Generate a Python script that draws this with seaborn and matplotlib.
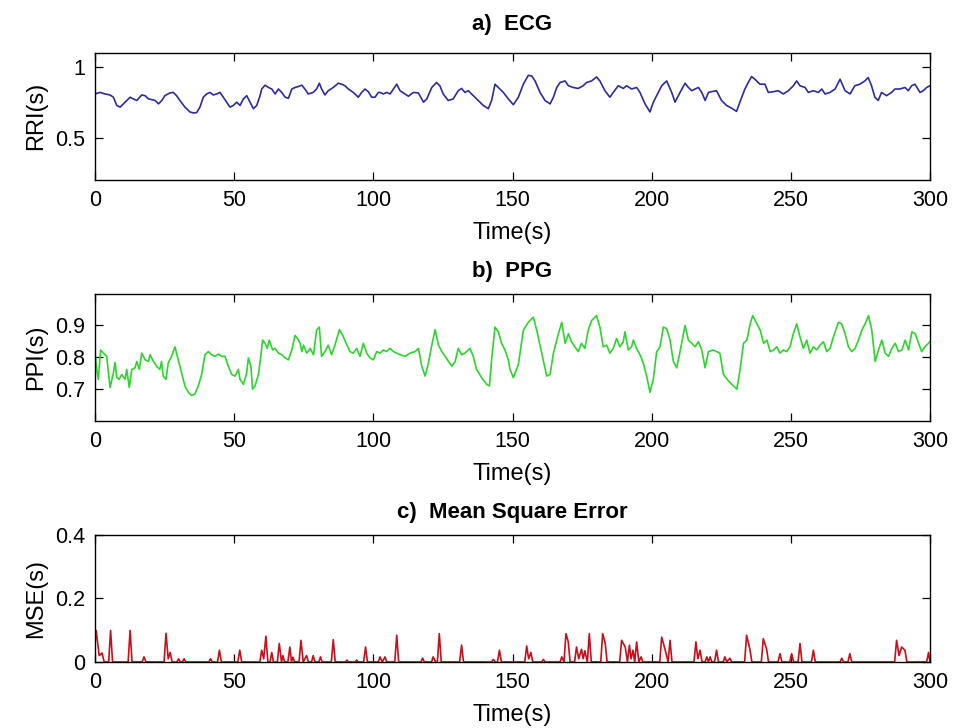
import numpy as np
import matplotlib
matplotlib.use("Agg")
import matplotlib.pyplot as plt
import seaborn as sns

# ============================
# data (time in s, value in s)
# ============================
ECG = [
    (0.0, 0.808), (1.8, 0.819), (3.6, 0.808), (5.4, 0.801), (6.6, 0.785), (7.8, 0.727),
    (9.0, 0.715), (10.2, 0.738), (11.4, 0.762), (12.6, 0.785), (13.8, 0.773), (15.0, 0.762),
    (16.8, 0.801), (18.0, 0.796), (19.2, 0.773), (20.4, 0.768), (21.6, 0.762), (22.8, 0.738),
    (24.0, 0.762), (25.1, 0.796), (26.9, 0.815), (28.1, 0.819), (29.3, 0.796), (30.5, 0.762),
    (32.3, 0.715), (34.1, 0.681), (35.3, 0.674), (36.5, 0.676), (37.7, 0.715), (38.9, 0.785),
    (40.1, 0.808), (41.3, 0.819), (42.5, 0.801), (43.7, 0.808), (44.9, 0.819), (46.1, 0.785),
    (47.3, 0.750), (48.5, 0.715), (49.7, 0.727), (50.9, 0.750), (52.1, 0.727), (53.3, 0.773),
    (54.5, 0.796), (55.7, 0.750), (56.9, 0.704), (58.1, 0.727), (59.3, 0.796), (59.9, 0.843),
    (61.1, 0.870), (62.3, 0.854), (63.5, 0.843), (64.7, 0.808), (65.9, 0.843), (67.1, 0.819),
    (68.3, 0.785), (69.5, 0.778), (70.7, 0.843), (71.9, 0.854), (73.1, 0.861), (74.3, 0.870),
    (75.4, 0.843), (76.6, 0.808), (78.4, 0.819), (79.6, 0.843), (80.6, 0.884), (81.4, 0.843),
    (82.6, 0.801), (83.8, 0.831), (85.6, 0.854), (87.4, 0.884), (88.6, 0.877), (89.8, 0.866),
    (91.0, 0.843), (92.8, 0.819), (94.6, 0.785), (95.8, 0.819), (97.0, 0.843), (98.2, 0.824),
    (99.4, 0.785), (100.6, 0.785), (101.8, 0.819), (102.4, 0.819), (103.6, 0.808), (104.8, 0.819),
    (106.0, 0.808), (107.2, 0.843), (108.4, 0.877), (109.6, 0.831), (111.4, 0.808), (112.6, 0.792),
    (114.4, 0.819), (116.2, 0.815), (118.0, 0.750), (119.2, 0.773), (121.0, 0.854), (122.7, 0.889),
    (123.9, 0.866), (125.1, 0.808), (126.9, 0.762), (128.7, 0.773), (130.5, 0.831), (131.7, 0.847),
    (132.9, 0.819), (134.1, 0.831), (135.9, 0.796), (137.7, 0.762), (139.5, 0.727), (141.3, 0.704),
    (142.5, 0.762), (143.7, 0.877), (144.9, 0.854), (146.7, 0.819), (148.5, 0.773), (150.3, 0.732),
    (152.1, 0.785), (153.9, 0.877), (155.7, 0.940), (156.9, 0.935), (158.1, 0.900), (159.9, 0.819),
    (161.7, 0.762), (163.5, 0.738), (164.7, 0.785), (165.9, 0.854), (167.1, 0.889), (168.9, 0.900),
    (170.1, 0.866), (171.8, 0.854), (173.6, 0.847), (175.4, 0.866), (176.6, 0.889), (178.4, 0.900),
    (180.2, 0.928), (181.4, 0.900), (183.2, 0.831), (185.0, 0.785), (186.2, 0.819), (188.0, 0.866),
    (189.8, 0.847), (191.0, 0.866), (192.8, 0.843), (194.6, 0.854), (195.8, 0.819), (197.6, 0.738),
    (199.4, 0.681), (200.6, 0.750), (201.8, 0.796), (203.6, 0.866), (205.4, 0.900), (207.2, 0.819),
    (208.4, 0.750), (210.2, 0.819), (212.0, 0.884), (213.2, 0.854), (214.4, 0.831), (215.6, 0.843),
    (216.8, 0.854), (218.0, 0.819), (219.2, 0.762), (220.4, 0.819), (221.5, 0.824), (223.3, 0.831),
    (225.1, 0.762), (226.9, 0.727), (228.7, 0.708), (230.5, 0.685), (231.7, 0.750), (233.5, 0.843),
    (234.7, 0.889), (235.9, 0.931), (237.1, 0.912), (238.9, 0.877), (240.7, 0.877), (241.9, 0.819),
    (243.7, 0.824), (245.5, 0.831), (247.3, 0.808), (249.1, 0.831), (250.9, 0.866), (252.1, 0.900),
    (253.3, 0.866), (255.1, 0.854), (256.3, 0.819), (258.1, 0.831), (259.9, 0.819), (261.1, 0.843),
    (262.3, 0.808), (264.1, 0.819), (265.9, 0.843), (267.7, 0.912), (269.5, 0.831), (271.3, 0.808),
    (273.0, 0.866), (274.8, 0.877), (276.6, 0.900), (277.8, 0.924), (279.0, 0.866), (280.2, 0.785),
    (281.4, 0.762), (282.6, 0.819), (284.4, 0.796), (286.2, 0.819), (287.4, 0.843), (289.2, 0.843),
    (291.0, 0.854), (292.2, 0.831), (293.4, 0.866), (294.6, 0.877), (296.4, 0.819), (297.6, 0.831),
    (298.8, 0.854), (300.0, 0.866),
]

PPG = [
    (0.0, 0.818), (0.6, 0.762), (1.2, 0.731), (2.0, 0.823), (3.0, 0.813), (4.2, 0.803),
    (5.4, 0.705), (6.6, 0.751), (7.2, 0.784), (7.8, 0.736), (8.7, 0.731), (9.6, 0.746),
    (10.8, 0.731), (11.4, 0.762), (12.3, 0.705), (13.2, 0.762), (14.4, 0.767), (15.0, 0.787),
    (15.9, 0.762), (16.8, 0.813), (18.0, 0.792), (19.2, 0.787), (19.8, 0.808), (21.0, 0.787),
    (22.1, 0.772), (23.3, 0.762), (23.9, 0.787), (24.5, 0.741), (25.5, 0.731), (26.3, 0.782),
    (27.5, 0.803), (28.7, 0.833), (29.9, 0.792), (31.1, 0.751), (32.3, 0.710), (33.5, 0.690),
    (34.7, 0.680), (35.9, 0.685), (37.1, 0.710), (38.3, 0.746), (39.5, 0.808), (40.7, 0.818),
    (41.9, 0.808), (43.1, 0.803), (44.3, 0.810), (45.5, 0.803), (46.7, 0.803), (47.9, 0.772),
    (49.1, 0.746), (50.3, 0.741), (51.5, 0.762), (52.1, 0.731), (53.3, 0.715), (54.5, 0.751),
    (55.1, 0.798), (56.0, 0.772), (56.6, 0.700), (57.5, 0.710), (58.7, 0.746), (59.5, 0.798),
    (60.2, 0.854), (61.1, 0.844), (61.9, 0.828), (62.6, 0.854), (63.8, 0.823), (64.7, 0.828),
    (65.9, 0.813), (67.1, 0.808), (68.3, 0.798), (69.5, 0.792), (70.7, 0.823), (71.9, 0.869),
    (73.1, 0.854), (73.7, 0.844), (74.3, 0.818), (74.9, 0.838), (76.1, 0.813), (77.3, 0.828),
    (78.5, 0.808), (79.6, 0.885), (80.6, 0.895), (81.4, 0.803), (82.6, 0.818), (83.8, 0.838),
    (85.0, 0.808), (86.2, 0.838), (87.8, 0.887), (89.0, 0.869), (90.2, 0.844), (91.6, 0.818),
    (92.8, 0.813), (94.0, 0.828), (95.2, 0.803), (96.4, 0.844), (97.6, 0.813), (98.8, 0.798),
    (100.0, 0.792), (101.2, 0.818), (102.4, 0.813), (103.6, 0.823), (104.8, 0.818), (106.0, 0.828),
    (107.2, 0.818), (108.4, 0.813), (109.6, 0.808), (111.4, 0.803), (113.2, 0.813), (115.0, 0.818),
    (116.2, 0.828), (117.4, 0.772), (118.6, 0.741), (119.8, 0.782), (121.0, 0.838), (122.2, 0.887),
    (123.4, 0.838), (124.6, 0.818), (125.8, 0.803), (127.0, 0.787), (128.2, 0.772), (129.4, 0.787),
    (130.5, 0.828), (131.7, 0.808), (132.9, 0.813), (134.7, 0.828), (135.9, 0.803), (137.1, 0.762),
    (138.9, 0.736), (140.7, 0.715), (141.7, 0.710), (142.5, 0.792), (143.7, 0.895), (144.9, 0.880),
    (146.1, 0.844), (147.3, 0.823), (148.5, 0.792), (149.1, 0.762), (150.3, 0.736), (152.1, 0.777),
    (153.9, 0.885), (155.7, 0.910), (157.5, 0.926), (158.7, 0.885), (160.5, 0.813), (162.3, 0.741),
    (163.5, 0.746), (164.7, 0.813), (166.5, 0.874), (167.7, 0.910), (168.9, 0.844), (170.1, 0.874),
    (171.2, 0.849), (172.4, 0.833), (173.6, 0.818), (174.8, 0.844), (176.0, 0.828), (177.2, 0.885),
    (178.4, 0.915), (180.2, 0.931), (181.4, 0.895), (182.6, 0.833), (183.8, 0.838), (185.0, 0.813),
    (186.2, 0.828), (187.4, 0.859), (188.6, 0.833), (189.8, 0.849), (190.4, 0.880), (191.6, 0.823),
    (192.8, 0.833), (193.4, 0.854), (194.6, 0.828), (195.8, 0.808), (197.0, 0.782), (198.2, 0.741),
    (199.4, 0.690), (200.6, 0.731), (201.8, 0.818), (203.0, 0.833), (204.2, 0.895), (205.4, 0.890),
    (206.6, 0.854), (207.8, 0.787), (209.0, 0.767), (210.2, 0.818), (212.0, 0.900), (213.2, 0.854),
    (214.4, 0.844), (215.6, 0.833), (216.8, 0.849), (218.0, 0.823), (219.2, 0.767), (220.4, 0.818),
    (222.1, 0.823), (223.3, 0.818), (224.5, 0.813), (225.8, 0.746), (227.6, 0.726), (229.4, 0.710),
    (230.6, 0.700), (231.8, 0.762), (233.0, 0.844), (234.2, 0.854), (235.4, 0.905), (236.3, 0.931),
    (237.8, 0.905), (239.0, 0.885), (240.2, 0.844), (241.4, 0.854), (242.6, 0.818), (243.8, 0.823),
    (245.0, 0.833), (246.1, 0.813), (247.3, 0.823), (248.5, 0.818), (249.7, 0.833), (250.9, 0.874),
    (252.1, 0.905), (253.3, 0.864), (254.5, 0.828), (255.7, 0.854), (256.9, 0.813), (258.1, 0.833),
    (259.3, 0.823), (260.5, 0.838), (261.7, 0.849), (262.9, 0.818), (264.1, 0.828), (265.3, 0.864),
    (267.1, 0.910), (268.3, 0.905), (269.5, 0.874), (270.7, 0.833), (271.9, 0.818), (273.1, 0.828),
    (274.3, 0.854), (275.5, 0.885), (276.7, 0.905), (277.9, 0.931), (279.1, 0.885), (280.3, 0.787),
    (281.5, 0.823), (282.7, 0.854), (283.9, 0.813), (285.1, 0.803), (286.3, 0.828), (287.5, 0.844),
    (288.7, 0.818), (289.9, 0.823), (291.1, 0.854), (292.3, 0.823), (293.5, 0.880), (294.7, 0.874),
    (295.9, 0.844), (297.0, 0.818), (298.2, 0.833), (300.0, 0.849),
]

MSE = [
    (0.0, 0.060), (0.4, 0.099), (1.5, 0.020), (2.5, 0.028), (3.3, 0.0),
    (4.9, 0.0), (5.6, 0.099), (6.3, 0.0), (11.9, 0.0), (12.6, 0.099), (13.3, 0.0),
    (16.9, 0.0), (17.6, 0.016), (18.3, 0.0), (24.8, 0.0), (25.5, 0.090), (26.3, 0.010),
    (27.0, 0.030), (27.7, 0.0), (29.4, 0.0), (30.0, 0.010), (30.6, 0.0), (31.4, 0.0),
    (32.0, 0.010), (32.6, 0.0), (40.9, 0.0), (41.5, 0.010), (42.1, 0.0), (44.0, 0.0),
    (44.7, 0.037), (45.4, 0.0), (51.3, 0.0), (52.0, 0.037), (52.7, 0.0), (59.2, 0.0),
    (59.9, 0.037), (60.6, 0.010), (61.4, 0.081), (62.1, 0.0), (62.9, 0.0), (63.5, 0.030),
    (64.1, 0.0), (65.5, 0.0), (66.2, 0.058), (67.0, 0.0), (67.5, 0.020), (68.1, 0.0),
    (69.3, 0.0), (70.0, 0.047), (70.6, 0.0), (71.1, 0.015), (71.7, 0.0), (73.3, 0.0),
    (74.0, 0.068), (74.8, 0.0), (76.0, 0.020), (76.7, 0.0), (77.8, 0.0), (78.4, 0.020),
    (79.0, 0.0), (80.4, 0.0), (81.0, 0.016), (81.6, 0.0), (84.9, 0.0), (85.6, 0.070),
    (86.3, 0.0), (90.0, 0.0), (90.5, 0.006), (91.0, 0.0), (93.5, 0.0), (94.0, 0.006),
    (94.5, 0.0), (96.5, 0.0), (97.2, 0.047), (97.9, 0.0), (101.8, 0.0), (102.4, 0.016),
    (103.2, 0.0), (104.2, 0.016), (104.8, 0.0), (107.7, 0.0), (108.4, 0.084), (109.1, 0.0),
    (117.1, 0.0), (117.7, 0.012), (118.3, 0.0), (120.9, 0.0), (121.5, 0.016), (122.4, 0.0),
    (123.0, 0.0), (123.7, 0.089), (124.4, 0.0), (131.0, 0.0), (131.7, 0.053), (132.4, 0.0),
    (142.5, 0.0), (143.1, 0.008), (143.8, 0.0), (144.6, 0.0), (145.3, 0.037), (146.0, 0.0),
    (154.4, 0.0), (155.1, 0.050), (155.8, 0.010), (156.6, 0.030), (157.3, 0.0), (160.5, 0.0),
    (161.1, 0.008), (161.7, 0.0), (167.1, 0.0), (167.7, 0.016), (168.5, 0.0), (169.2, 0.089),
    (170.0, 0.065), (170.7, 0.0), (172.3, 0.0), (173.0, 0.047), (173.8, 0.010), (174.8, 0.040),
    (175.4, 0.010), (176.0, 0.035), (176.9, 0.0), (177.6, 0.089), (178.3, 0.0), (181.7, 0.0),
    (182.4, 0.089), (183.3, 0.060), (184.0, 0.0), (188.5, 0.0), (189.2, 0.068), (190.5, 0.047),
    (191.3, 0.0), (192.0, 0.053), (192.6, 0.010), (193.3, 0.037), (193.9, 0.0), (194.6, 0.063),
    (195.4, 0.0), (196.2, 0.016), (196.8, 0.0), (202.9, 0.0), (203.6, 0.078), (204.8, 0.040),
    (205.9, 0.0), (206.6, 0.068), (207.3, 0.0), (215.2, 0.0), (215.9, 0.063), (216.6, 0.010),
    (217.4, 0.037), (218.1, 0.0), (219.2, 0.0), (219.8, 0.016), (220.4, 0.0), (221.0, 0.016),
    (221.6, 0.0), (222.6, 0.0), (223.3, 0.037), (224.0, 0.0), (225.7, 0.0), (226.3, 0.016),
    (227.0, 0.0), (228.1, 0.012), (228.7, 0.0), (233.4, 0.0), (234.1, 0.084), (235.3, 0.040),
    (236.0, 0.0), (239.4, 0.0), (240.1, 0.073), (241.3, 0.040), (242.0, 0.0), (245.4, 0.0),
    (246.1, 0.026), (246.8, 0.0), (249.6, 0.0), (250.3, 0.026), (251.0, 0.0), (252.6, 0.0),
    (253.3, 0.058), (254.0, 0.0), (257.4, 0.0), (258.1, 0.037), (258.8, 0.0), (267.7, 0.0),
    (268.3, 0.012), (268.9, 0.0), (270.5, 0.0), (271.2, 0.026), (271.9, 0.0), (287.3, 0.0),
    (288.0, 0.068), (288.9, 0.020), (289.8, 0.047), (291.0, 0.037), (291.7, 0.0), (298.8, 0.0),
    (299.5, 0.030), (300.0, 0.0),
]

TITLES = ["a)  ECG", "b)  PPG", "c)  Mean Square Error"]
YLABELS = ["RRI(s)", "PPI(s)", "MSE(s)"]
YTICKS = [[0.5, 1.0], [0.7, 0.8, 0.9], [0.0, 0.2, 0.4]]
YTICKLABELS = [["0.5", "1"], ["0.7", "0.8", "0.9"], ["0", "0.2", "0.4"]]
YLIMS = [(0.2, 1.1), (0.6, 1.0), (0.0, 0.4)]
XTICKS = [0, 50, 100, 150, 200, 250, 300]
COLORS = ["#2c2c9c", "#2ed42e", "#cc0c18"]

# ============================
# style
# ============================
sns.set_style("ticks")
plt.rcParams["font.family"] = ["Liberation Sans", "DejaVu Sans"]
plt.rcParams["text.color"] = "black"
plt.rcParams["axes.labelcolor"] = "black"

fig = plt.figure(figsize=(9.55, 7.28), dpi=100)
bottoms = [0.7527, 0.4217, 0.0907]
title_pads = [16, 12, 12]

for i, series in enumerate([ECG, PPG, MSE]):
    t, v = np.array(series).T
    ax = fig.add_axes([0.0995, bottoms[i], 0.8743, 0.175])
    sns.lineplot(x=t, y=v, ax=ax, color=COLORS[i], linewidth=1.2,
                 estimator=None, sort=False)
    ax.set_xlim(0, 300)
    ax.set_ylim(*YLIMS[i])
    ax.set_xticks(XTICKS)
    ax.set_xticklabels([str(x) for x in XTICKS])
    ax.set_yticks(YTICKS[i])
    ax.set_yticklabels(YTICKLABELS[i])
    ax.tick_params(direction="in", top=True, right=True, length=6, width=0.9,
                   labelsize=15.5, pad=7, colors="black")
    for sp in ax.spines.values():
        sp.set_visible(True)
        sp.set_linewidth(1.0)
        sp.set_color("black")
    ax.set_title(TITLES[i], fontsize=16, fontweight="bold", pad=title_pads[i])
    ax.set_xlabel("Time(s)", fontsize=17, labelpad=8)
    ax.set_ylabel(YLABELS[i], fontsize=17, labelpad=6)

fig.savefig("out.png", dpi=100)
